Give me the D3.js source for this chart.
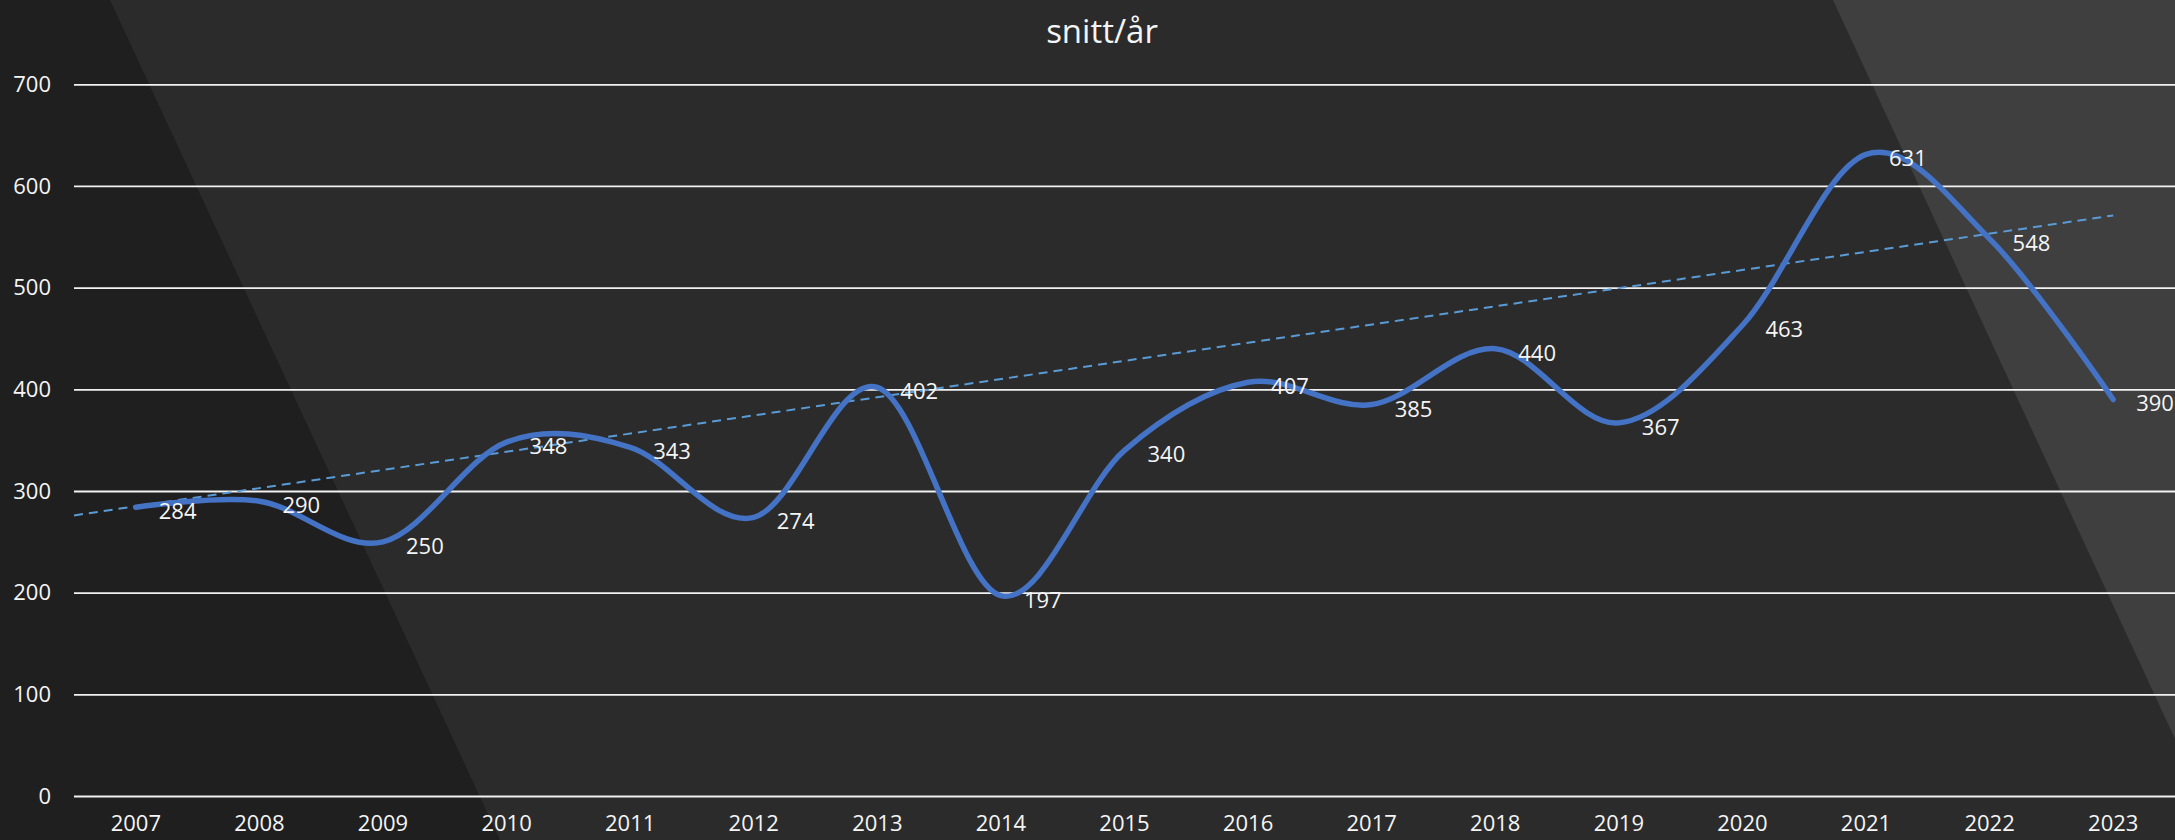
<!DOCTYPE html>
<html>
<head>
<meta charset="utf-8">
<script src="https://cdn.jsdelivr.net/npm/d3@7"></script>
<style>
  html, body { margin: 0; padding: 0; background: #2b2b2b; }
  svg { display: block; }
  text { font-family: "Open Sans", "Noto Sans", sans-serif; }
</style>
</head>
<body>
<svg id="chart" width="2175" height="840"></svg>
<script>
// ---- data ----
const title = "snitt/år";
const years = ["2007","2008","2009","2010","2011","2012","2013","2014","2015","2016","2017","2018","2019","2020","2021","2022","2023"];
const values = [284, 290, 250, 348, 343, 274, 402, 197, 340, 407, 385, 440, 367, 463, 631, 548, 390];
const yTicks = [0, 100, 200, 300, 400, 500, 600, 700];
// trendline values: at left plot edge (half a period back) and at last category
const trendValues = [276, 571];

// ---- layout ----
const W = 2175, H = 840;
const plot = { left: 74, right: 2175, top: 84.3, bottom: 796 };

const svg = d3.select("#chart");

// background shapes
svg.append("rect").attr("width", W).attr("height", H).attr("fill", "#2b2b2b");
svg.append("polygon")
  .attr("points", [[0,0],[110,0],[500,840],[0,840]].map(p => p.join(",")).join(" "))
  .attr("fill", "#1f1f1f");
svg.append("polygon")
  .attr("points", [[1833,0],[2175,0],[2175,739]].map(p => p.join(",")).join(" "))
  .attr("fill", "#3f3f3f");

// scales
const x = d3.scaleBand().domain(years).range([plot.left, plot.right]).padding(0);
const cx = d => x(d) + x.bandwidth() / 2;
const y = d3.scaleLinear().domain([0, 700]).range([plot.bottom, plot.top]);

// y axis + gridlines
const yAxis = svg.append("g")
  .attr("transform", `translate(${plot.left},0)`)
  .call(d3.axisLeft(y).tickValues(yTicks).tickSize(-(plot.right - plot.left)).tickPadding(23));
yAxis.select(".domain").remove();
yAxis.selectAll(".tick line").attr("stroke", "#f2f2f2").attr("stroke-width", 1.8);
yAxis.selectAll(".tick text").attr("fill", "#f5f5f5").attr("font-size", 22);

// x axis
const xAxis = svg.append("g")
  .attr("transform", `translate(0,${plot.bottom})`)
  .call(d3.axisBottom(x).tickSize(0).tickPadding(19));
xAxis.select(".domain").remove();
xAxis.selectAll(".tick text").attr("fill", "#f5f5f5").attr("font-size", 22);

// trendline (linear, dashed)
const trendX0 = x(years[0]);                 // half a period before first category
const trendX1 = cx(years[years.length - 1]);
svg.append("line")
  .attr("x1", trendX0).attr("y1", y(trendValues[0]))
  .attr("x2", trendX1).attr("y2", y(trendValues[1]))
  .attr("stroke", "#5B9BD5").attr("stroke-width", 2)
  .attr("stroke-dasharray", "9,6");

// smoothed line
const line = d3.line()
  .x((d, i) => cx(years[i]))
  .y(d => y(d))
  .curve(d3.curveCardinal.tension(0));
svg.append("path")
  .datum(values)
  .attr("d", line)
  .attr("fill", "none")
  .attr("stroke", "#4472C4")
  .attr("stroke-width", 5.5)
  .attr("stroke-linecap", "round")
  .attr("stroke-linejoin", "round");

// data labels (right of point)
svg.append("g").selectAll("text")
  .data(values)
  .join("text")
  .attr("x", (d, i) => cx(years[i]) + 23)
  .attr("y", d => y(d) + 3)
  .attr("dominant-baseline", "central")
  .attr("fill", "#f5f5f5")
  .attr("font-size", 22)
  .text(d => d);

// title
svg.append("text")
  .attr("x", 1102).attr("y", 30)
  .attr("text-anchor", "middle")
  .attr("dominant-baseline", "central")
  .attr("fill", "#f5f5f5")
  .attr("font-size", 33)
  .text(title);
</script>
</body>
</html>
